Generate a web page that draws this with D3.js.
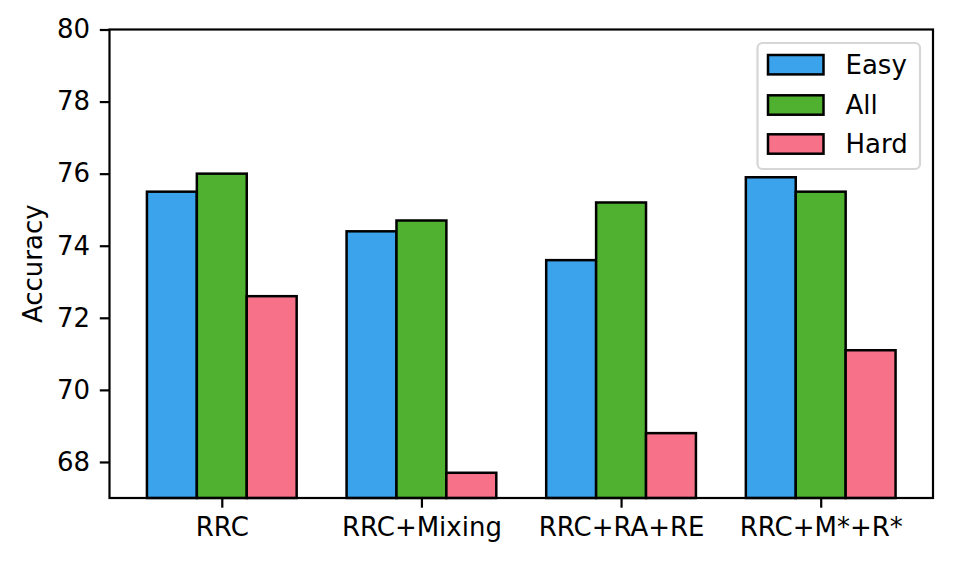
<!DOCTYPE html>
<html>
<head>
<meta charset="utf-8">
<script src="https://cdn.jsdelivr.net/npm/d3@7"></script>
<style>
  body { margin: 0; background: #fff; }
  text { font-family: "DejaVu Sans", sans-serif; fill: #000; }
</style>
</head>
<body>
<script>
//chart data
var categories = ["RRC", "RRC+Mixing", "RRC+RA+RE", "RRC+M*+R*"];
var seriesNames = ["Easy", "All", "Hard"];
var easyValues = [75.5, 74.4, 73.6, 75.9];
var allValues = [76.0, 74.7, 75.2, 75.5];
var hardValues = [72.6, 67.7, 68.8, 71.1];
var yTicks = [68, 70, 72, 74, 76, 78, 80];

var seriesValues = [easyValues, allValues, hardValues];
var colors = ["#3ba3ec", "#50b131", "#f77189"];

window.onload = drawChart();

function drawChart(){
    var width = 953,
        height = 563;
    var left = 109.5, right = 933, top = 29.5, bottom = 498;
    var fontSize = 26;

    var svg = d3.select("body")
        .append("svg")
        .attr("width", width)
        .attr("height", height);

    //matplotlib style bar positions: groups at 0..n-1, bar width 0.25
    var barW = 0.25;
    var x = d3.scaleLinear()
        .domain([-0.5625, categories.length - 1 + 0.5625])
        .range([left, right]);

    var y = d3.scaleLinear()
        .domain([67, 80])
        .range([bottom, top]);

    //bars
    seriesValues.forEach(function(vals, s){
        svg.append("g")
            .selectAll("rect")
            .data(vals)
            .enter()
            .append("rect")
            .attr("x", function(d, i){ return x(i + (s - 1) * barW - barW / 2); })
            .attr("width", x(barW) - x(0))
            .attr("y", function(d){ return y(d); })
            .attr("height", function(d){ return y(67) - y(d); })
            .attr("fill", colors[s])
            .attr("stroke", "#000")
            .attr("stroke-width", 2.5);
    });

    //y axis
    var yAxis = svg.append("g")
        .attr("transform", "translate(" + left + ",0)")
        .call(d3.axisLeft(y).tickValues(yTicks).tickSize(9.7).tickPadding(9.7).tickFormat(d3.format("d")));
    yAxis.select(".domain").remove();
    yAxis.selectAll("line").attr("stroke-width", 2.2);
    yAxis.selectAll("text").attr("font-size", fontSize).attr("font-family", "DejaVu Sans");

    //x axis
    var xAxis = svg.append("g")
        .attr("transform", "translate(0," + bottom + ")")
        .call(d3.axisBottom(x).tickValues(d3.range(categories.length)).tickSize(9.7).tickPadding(9.7)
            .tickFormat(function(d){ return categories[d]; }));
    xAxis.select(".domain").remove();
    xAxis.selectAll("line").attr("stroke-width", 2.2);
    xAxis.selectAll("text").attr("font-size", fontSize).attr("font-family", "DejaVu Sans");

    //frame
    svg.append("rect")
        .attr("x", left)
        .attr("y", top)
        .attr("width", right - left)
        .attr("height", bottom - top)
        .attr("fill", "none")
        .attr("stroke", "#000")
        .attr("stroke-width", 2.2);

    //y label
    svg.append("text")
        .attr("transform", "translate(42," + ((top + bottom) / 2) + ") rotate(-90)")
        .attr("text-anchor", "middle")
        .attr("font-size", fontSize)
        .text("Accuracy");

    //legend
    var legend = svg.append("g");
    legend.append("rect")
        .attr("x", 757.5)
        .attr("y", 43)
        .attr("width", 162.5)
        .attr("height", 126)
        .attr("rx", 5)
        .attr("fill", "#fff")
        .attr("fill-opacity", 0.8)
        .attr("stroke", "#d6d6d6")
        .attr("stroke-width", 2.2);

    var rowY = [64.7, 105, 144];
    seriesNames.forEach(function(name, s){
        legend.append("rect")
            .attr("x", 768)
            .attr("y", rowY[s] - 9.7)
            .attr("width", 55.5)
            .attr("height", 19.4)
            .attr("fill", colors[s])
            .attr("stroke", "#000")
            .attr("stroke-width", 2.5);
        legend.append("text")
            .attr("x", 845.5)
            .attr("y", rowY[s])
            .attr("dy", "0.36em")
            .attr("font-size", fontSize)
            .text(name);
    });
}
</script>
</body>
</html>
